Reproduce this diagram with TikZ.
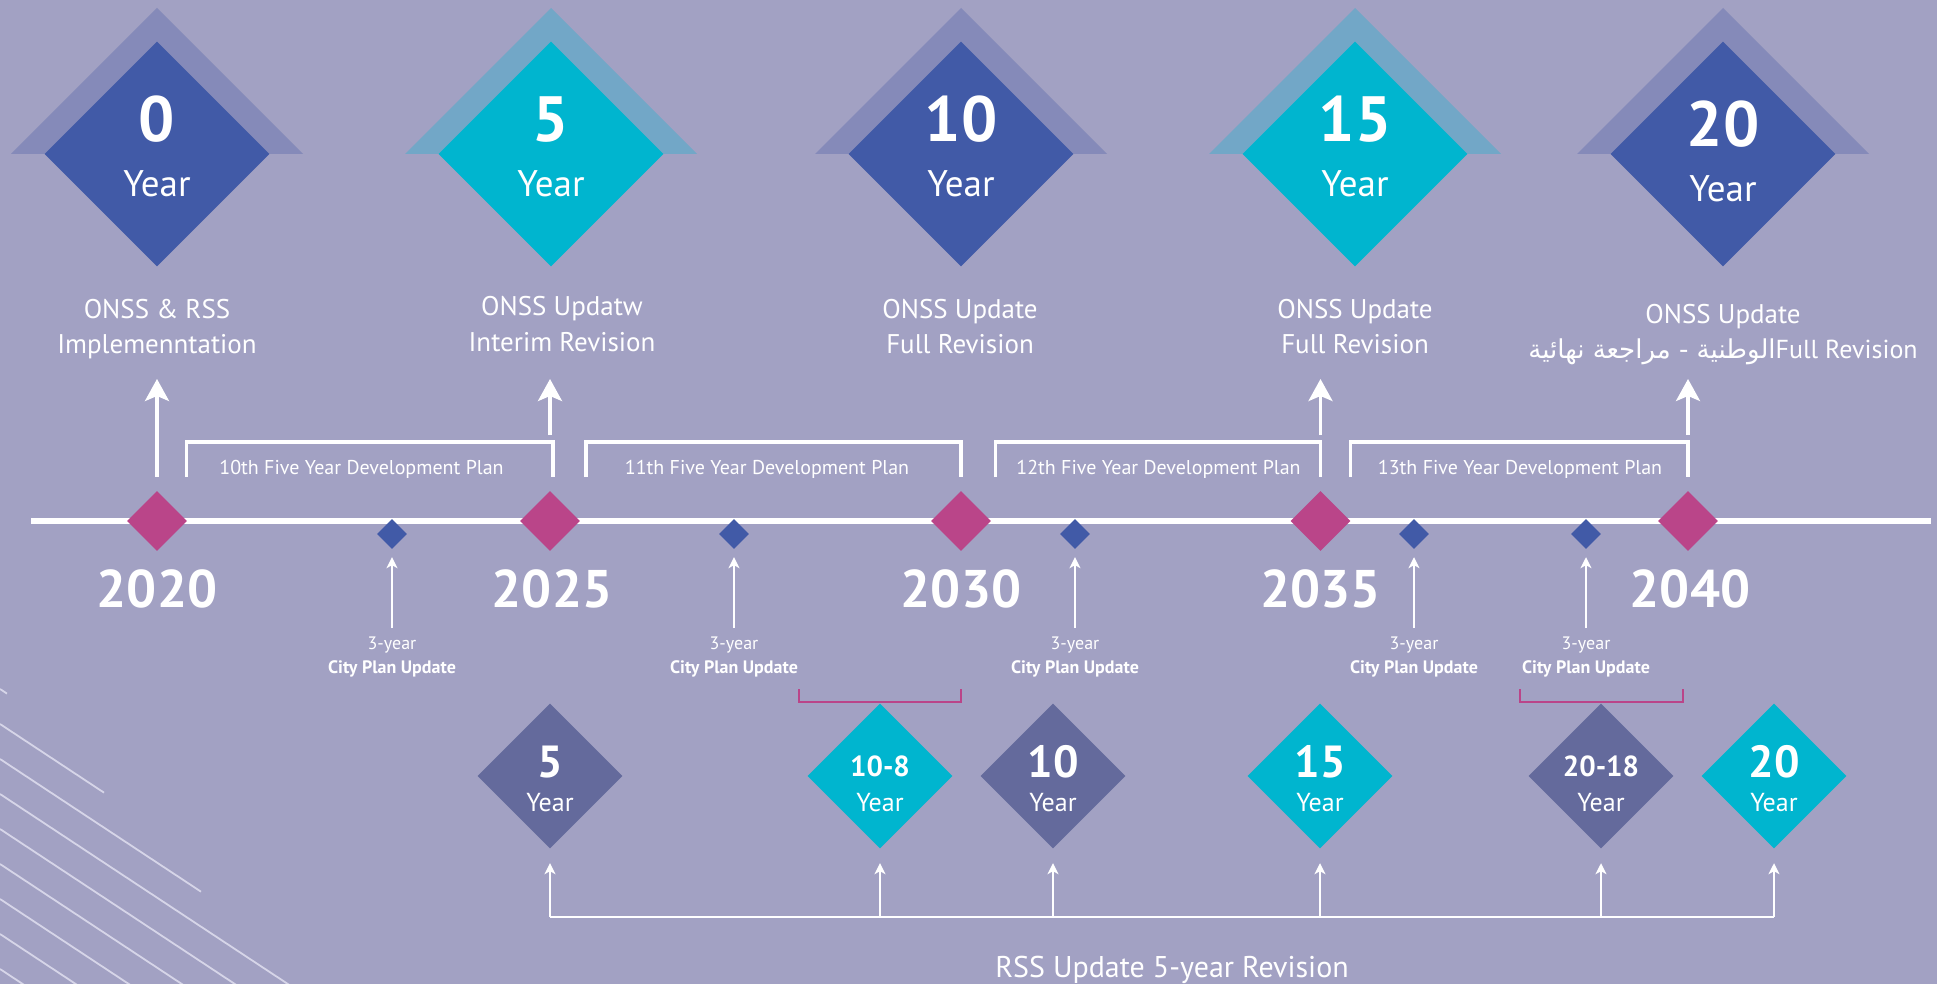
\documentclass[tikz,border=0pt]{standalone}
\usepackage{fontspec}
\setmainfont{PT Sans}
\newfontfamily\arabicfont[Script=Arabic]{DejaVu Sans}
\TeXXeTstate=1
\usetikzlibrary{shapes.geometric,arrows.meta}
\definecolor{bg}{RGB}{162,161,195}
\definecolor{navy}{RGB}{65,90,167}
\definecolor{navyhalo}{RGB}{133,138,185}
\definecolor{cyanA}{RGB}{0,181,207}
\definecolor{cyanhalo}{RGB}{114,167,199}
\definecolor{pinkA}{RGB}{186,69,137}
\definecolor{slate}{RGB}{100,106,156}
\definecolor{stripe}{RGB}{214,213,232}
\tikzset{
  bigdia/.style={diamond, inner sep=0pt, minimum width=225pt, minimum height=225pt, fill=#1},
  pinkdia/.style={diamond, inner sep=0pt, minimum width=60pt, minimum height=60pt, fill=pinkA},
  bluedia/.style={diamond, inner sep=0pt, minimum width=30pt, minimum height=30pt, fill=navy},
  lowdia/.style={diamond, inner sep=0pt, minimum width=145pt, minimum height=145pt, fill=#1},
  txt/.style={text=white, inner sep=0pt, anchor=base},
  bignum/.style={txt, font=\bfseries\fontsize{64}{64}\selectfont},
  bigyear/.style={txt, font=\fontsize{37}{37}\selectfont},
  toplabel/.style={txt, font=\fontsize{27}{30}\selectfont},
  yearlabel/.style={txt, font=\bfseries\fontsize{53}{53}\selectfont},
  devlabel/.style={txt, font=\fontsize{20}{24}\selectfont},
  cityA/.style={txt, font=\fontsize{18}{20}\selectfont},
  cityB/.style={txt, font=\bfseries\fontsize{18}{20}\selectfont},
  lownum/.style={txt, font=\bfseries\fontsize{45}{45}\selectfont},
  lownumsm/.style={txt, font=\bfseries\fontsize{29}{29}\selectfont},
  lowyear/.style={txt, font=\fontsize{26}{26}\selectfont},
  bigarrow/.style={draw=white, line width=3.3pt, -{Stealth[length=22pt,width=24pt,inset=5pt]}},
  smallarrow/.style={draw=white, line width=1.4pt, -{Stealth[length=11pt,width=11pt,inset=3pt]}},
  planbracket/.style={draw=white, line width=3.5pt},
  pinkbracket/.style={draw=pinkA, line width=2.5pt},
}
\begin{document}
\begin{tikzpicture}[x=1pt,y=-1pt]
\fill[bg] (0,0) rectangle (1937,984);
\useasboundingbox (0,0) rectangle (1937,984);

% decorative stripes
\begin{scope}
\clip (0,0) rectangle (1937,984);
\foreach \i in {0,...,8}
  \draw[stripe, line width=1.8pt] (0,{689+35*\i}) -- ++({7+97*\i},{0.66*(7+97*\i)});
\end{scope}

% top big diamonds
\foreach \x/\h in {157/navyhalo, 551/cyanhalo, 961/navyhalo, 1355/cyanhalo, 1723/navyhalo}{
  \fill[\h] (\x-146,154) -- (\x,8) -- (\x+146,154) -- cycle;
}
\node[bigdia=navy] (D0) at (157,154) {};
\node[bigdia=cyanA] (D5) at (551,154) {};
\node[bigdia=navy] (D10) at (961,154) {};
\node[bigdia=cyanA] (D15) at (1355,154) {};
\node[bigdia=navy] (D20) at (1723,154) {};

\node[bignum] (N0) at (157,142) {0};
\node[bignum] (N5) at (551,142) {5};
\node[bignum] (N10) at (961,142) {10};
\node[bignum] (N15) at (1355,142) {15};
\node[bignum] (N20) at (1723,147) {20};
\node[bigyear] (Y0) at (157,197) {Year};
\node[bigyear] (Y5) at (551,197) {Year};
\node[bigyear] (Y10) at (961,197) {Year};
\node[bigyear] (Y15) at (1355,197) {Year};
\node[bigyear] (Y20) at (1723,202) {Year};

% top labels
\node[toplabel] (L0a) at (157,318) {ONSS \& RSS};
\node[toplabel] (L0b) at (157,353) {Implemenntation};
\node[toplabel] (L5a) at (562,315) {ONSS Updatw};
\node[toplabel] (L5b) at (562,351) {Interim Revision};
\node[toplabel] (L10a) at (960,318) {ONSS Update};
\node[toplabel] (L10b) at (960,353) {Full Revision};
\node[toplabel] (L15a) at (1355,318) {ONSS Update};
\node[toplabel] (L15b) at (1355,353) {Full Revision};
\node[toplabel] (L20a) at (1723,323) {ONSS Update};
\node[txt, font=\fontsize{26}{30}\selectfont] (L20b) at (1723,358) {{\arabicfont\beginR الوطنية - مراجعة نهائية\endR}Full Revision};

% development plan brackets
\draw[planbracket] (186.5,477) -- (186.5,442) -- (553,442) -- (553,477);
\draw[planbracket] (586,477) -- (586,442) -- (961,442) -- (961,477);
\draw[planbracket] (995.5,477) -- (995.5,442) -- (1320.5,442) -- (1320.5,477);
\draw[planbracket] (1350.5,477) -- (1350.5,442) -- (1688,442) -- (1688,477);
\node[devlabel] (P10) at (361.5,474) {10th Five Year Development Plan};
\node[devlabel] (P11) at (767,474) {11th Five Year Development Plan};
\node[devlabel] (P12) at (1158.5,474) {12th Five Year Development Plan};
\node[devlabel] (P13) at (1520,474) {13th Five Year Development Plan};

% timeline
\coordinate (T0) at (31,521);
\coordinate (T1) at (1931,521);
\draw[white, line width=5.3pt] (T0) -- (T1);

\node[pinkdia] (p2020) at (157,521) {};
\node[pinkdia] (p2025) at (550,521) {};
\node[pinkdia] (p2030) at (961,521) {};
\node[pinkdia] (p2035) at (1320.5,521) {};
\node[pinkdia] (p2040) at (1688,521) {};

\node[yearlabel] (y2020) at (157,607) {2020};
\node[yearlabel] (y2025) at (552,607) {2025};
\node[yearlabel] (y2030) at (961,607) {2030};
\node[yearlabel] (y2035) at (1320.5,607) {2035};
\node[yearlabel] (y2040) at (1690,607) {2040};

% top arrows
\coordinate (A0) at (157,379);
\coordinate (A5s) at (550,435);
\coordinate (A5) at (550,379);
\coordinate (A15s) at (1320.5,435);
\coordinate (A15) at (1320.5,379);
\coordinate (A20s) at (1688,435);
\coordinate (A20) at (1688,379);
\draw[bigarrow, shorten <=14pt] (p2020.north) -- (A0);
\draw[bigarrow] (A5s) -- (A5);
\draw[bigarrow] (A15s) -- (A15);
\draw[bigarrow] (A20s) -- (A20);

% city plan updates
\foreach \k/\x in {1/392,2/734,3/1075,4/1414,5/1586}{
  \node[bluedia] (b\k) at (\x,534) {};
  \coordinate (c\k) at (\x,628);
  \draw[smallarrow, shorten >=8pt] (c\k) -- (b\k.south);
  \node[cityA] (ca\k) at (\x,649) {3-year};
  \node[cityB] (cb\k) at (\x,673) {City Plan Update};
}

% pink brackets
\draw[pinkbracket] (799,689) -- (799,702) -- (961,702) -- (961,689);
\draw[pinkbracket] (1520,689) -- (1520,702) -- (1683,702) -- (1683,689);

% lower diamonds
\node[lowdia=slate] (d1) at (550,776) {};
\node[lowdia=cyanA] (d2) at (880,776) {};
\node[lowdia=slate] (d3) at (1053,776) {};
\node[lowdia=cyanA] (d4) at (1320,776) {};
\node[lowdia=slate] (d5) at (1601,776) {};
\node[lowdia=cyanA] (d6) at (1774,776) {};
\node[lownum] (m1) at (550,777) {5};
\node[lownumsm] (m2) at (880,776) {10-8};
\node[lownum] (m3) at (1053,777) {10};
\node[lownum] (m4) at (1320,777) {15};
\node[lownumsm] (m5) at (1601,776) {20-18};
\node[lownum] (m6) at (1774,777) {20};
\foreach \k/\x in {1/550,2/880,3/1053,4/1320,5/1601,6/1774}{
  \node[lowyear] (w\k) at (\x,811) {Year};
  \coordinate (r\k) at (\x,917);
  \draw[smallarrow, shorten >=14.5pt] (r\k) -- (d\k.south);
}
\draw[white, line width=1.8pt] (r1) -- (r6);
\node[txt, font=\fontsize{30}{30}\selectfont] (rss) at (1172,977) {RSS Update 5-year Revision};
\end{tikzpicture}
\end{document}
